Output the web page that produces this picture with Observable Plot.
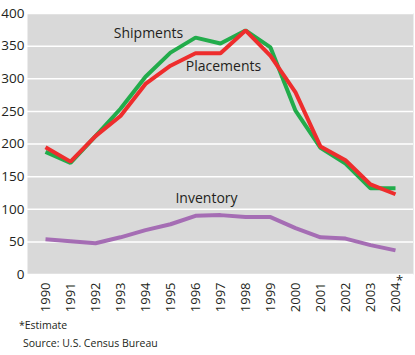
<!DOCTYPE html>
<html>
<head>
<meta charset="utf-8">
<script src="https://cdn.jsdelivr.net/npm/d3@7"></script>
<script src="https://cdn.jsdelivr.net/npm/@observablehq/plot@0.6"></script>
<style>
  html, body { margin: 0; padding: 0; background: #fff; }
  body { width: 415px; height: 355px; overflow: hidden; font-family: "Open Sans", sans-serif; color: #231f20; }
  #chart svg { display: block; }
  .foot { font-size: 10.5px; position: absolute; left: 0; }
</style>
</head>
<body>
<div id="chart"></div>
<div class="foot" style="top:318px;left:19px;">*Estimate</div>
<div class="foot" style="top:336px;left:23px;">Source: U.S. Census Bureau</div>
<script>
const years = ["1990","1991","1992","1993","1994","1995","1996","1997","1998","1999","2000","2001","2002","2003","2004"];
const estimateYears = ["2004"];
const shipments  = [188, 171, 212, 254, 303, 340, 363, 354, 374, 348, 251, 194, 170, 132, 132];
const placements = [195, 173, 212, 243, 292, 320, 339, 339, 374, 335, 279, 196, 175, 138, 123];
const inventory  = [54, 51, 48, 57, 68, 77, 90, 91, 88, 88, 71, 57, 55, 45, 37];
const yTicks = [0, 50, 100, 150, 200, 250, 300, 350, 400];

const series = [
  {name: "Shipments", values: shipments, color: "#22ac4b"},
  {name: "Placements", values: placements, color: "#ee2d2d"},
  {name: "Inventory", values: inventory, color: "#a56db4"}
];
const rows = series.flatMap(s => s.values.map((v, i) => ({series: s.name, year: years[i], value: v, color: s.color})));
const pick = (name, year) => rows.filter(d => d.series === name && d.year === year);

const chart = Plot.plot({
  width: 415,
  height: 315,
  marginLeft: 27,
  marginRight: 2,
  marginTop: 13,
  marginBottom: 41,
  style: {fontFamily: "'Open Sans', sans-serif", fontSize: "13px", color: "#231f20"},
  x: {type: "point", domain: years, padding: 0.55},
  y: {domain: [0, 400]},
  marks: [
    Plot.frame({fill: "#d9d9d9", stroke: null}),
    Plot.gridY(yTicks, {stroke: "#fff", strokeOpacity: 1, strokeWidth: 1.5}),
    Plot.axisY(yTicks, {tickSize: 0, tickPadding: 3, fontSize: 13.5, label: null}),
    Plot.axisX({tickSize: 0, tickPadding: 8, tickRotate: -90, fontSize: 13, label: null}),
    Plot.text(estimateYears, {x: d => d, frameAnchor: "bottom", text: () => "*", dx: 4, dy: 10, fontSize: 13, fill: "#231f20"}),
    Plot.line(rows, {x: "year", y: "value", z: "series", stroke: "color", strokeWidth: 4, strokeLinejoin: "miter", strokeLinecap: "butt"}),
    Plot.text(pick("Shipments", "1994"), {x: "year", y: "value", text: "series", dx: 3, dy: -43, fontSize: 14, fill: "#231f20"}),
    Plot.text(pick("Placements", "1997"), {x: "year", y: "value", text: "series", dx: 3, dy: 13, fontSize: 14, fill: "#231f20"}),
    Plot.text(pick("Inventory", "1996"), {x: "year", y: "value", text: "series", dx: 11, dy: -17, fontSize: 14, fill: "#231f20"})
  ]
});
document.getElementById("chart").appendChild(chart);
</script>
</body>
</html>
